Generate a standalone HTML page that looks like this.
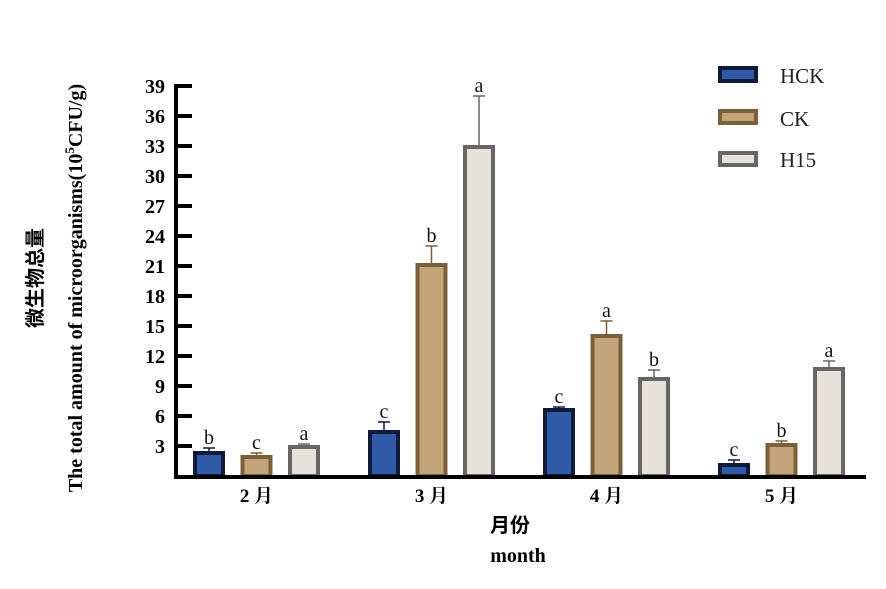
<!DOCTYPE html>
<html><head><meta charset="utf-8"><style>
body{margin:0;background:#fff;}
svg text{font-family:"Liberation Serif","Noto Serif CJK SC",serif;}
</style></head><body>
<svg id="chart" width="886" height="584" viewBox="0 0 886 584" xmlns="http://www.w3.org/2000/svg">
<g id="bars"></g>
<g id="axes"></g>
<g>
 <g><rect x="720" y="68" width="36" height="13" fill="#2e5aa8" stroke="#0d1a3a" stroke-width="4"/><text x="780" y="83" font-size="21" fill="#222">HCK</text></g>
 <g><rect x="720" y="111" width="36" height="12" fill="#c4a57a" stroke="#7a5f3a" stroke-width="4"/><text x="780" y="126" font-size="21" fill="#222">CK</text></g>
 <g><rect x="720" y="153" width="36" height="12" fill="#e6e2da" stroke="#666" stroke-width="4"/><text x="780" y="167" font-size="21" fill="#222">H15</text></g>
</g>
<text transform="translate(82,288) rotate(-90)" text-anchor="middle" font-size="20" font-weight="bold">The total amount of microorganisms(10<tspan font-size="13" dy="-8">5</tspan><tspan dy="8">CFU/g</tspan>)</text>
<text transform="translate(42,278) rotate(-90)" text-anchor="middle" font-size="20" font-weight="bold" style="font-family:'Noto Sans CJK SC',sans-serif">微生物总量</text>
<text x="510" y="532" text-anchor="middle" font-size="20" font-weight="bold" style="font-family:'Noto Sans CJK SC',sans-serif">月份</text>
<text x="518" y="562" text-anchor="middle" font-size="20" font-weight="bold">month</text>
</svg>
<script>
const categories=["2 月","3 月","4 月","5 月"];
const seriesNames=["HCK","CK","H15"];
const hck=[2.5,4.6,6.8,1.3];
const ck=[2.1,21.3,14.2,3.3];
const h15=[3.1,33.1,9.9,10.9];
const hckErr=[0.3,0.8,0.1,0.3];
const ckErr=[0.2,1.7,1.3,0.2];
const h15Err=[0.1,4.9,0.7,0.6];
const hckLetters=["b","c","c","c"];
const ckLetters=["c","b","a","b"];
const h15Letters=["a","a","b","a"];
const yTicks=[3,6,9,12,15,18,21,24,27,30,33,36,39];
const NS="http://www.w3.org/2000/svg";
const y=v=>476-v*10;
const x=(ci,si)=>193+ci*175+si*47.5;
const styles=[{f:"#2e5aa8",s:"#0d1a3a"},{f:"#c4a57a",s:"#7a5f3a"},{f:"#e6e2da",s:"#666"}];
const series=[hck,ck,h15],errs=[hckErr,ckErr,h15Err],letters=[hckLetters,ckLetters,h15Letters];
function mk(t,a,p){const e=document.createElementNS(NS,t);for(const k in a)e.setAttribute(k,a[k]);p.appendChild(e);return e;}
const bars=document.getElementById('bars'),axes=document.getElementById('axes');
series.forEach((vals,si)=>{vals.forEach((v,ci)=>{
 const bx=x(ci,si),w=32,top=y(v);
 const r=mk('rect',{x:bx+2,y:top+2,width:w-4,height:476-top-2,fill:styles[si].f,stroke:styles[si].s,'stroke-width':4},bars);
 
 
 const et=y(v+errs[si][ci]);
 const l=mk('path',{d:`M${bx+16},${top} V${et} M${bx+10},${et} H${bx+22}`,stroke:styles[si].s,'stroke-width':1.5,fill:'none'},bars);
 
 
 const t=mk('text',{x:bx+16,y:et-4,'text-anchor':'middle','font-size':20,fill:'#111'},bars);
 t.textContent=letters[si][ci];
 
 
});});
const ax=mk('path',{d:'M176,84 V478 M174,477 H866',stroke:'#000','stroke-width':4,fill:'none'},axes);


yTicks.forEach(v=>{
 const tk=mk('line',{x1:176,x2:192,y1:y(v),y2:y(v),stroke:'#000','stroke-width':4},axes);
 
 
 const t=mk('text',{x:165,y:y(v)+7,'text-anchor':'end','font-size':20,'font-weight':'bold'},axes);
 t.textContent=v;
 
 
});
categories.forEach((c,ci)=>{
 const t=mk('text',{x:x(ci,1)+16,y:502,'text-anchor':'middle','font-size':19,'font-weight':'bold'},axes);
 t.textContent=c;
 
 
});
</script>
</body></html>
